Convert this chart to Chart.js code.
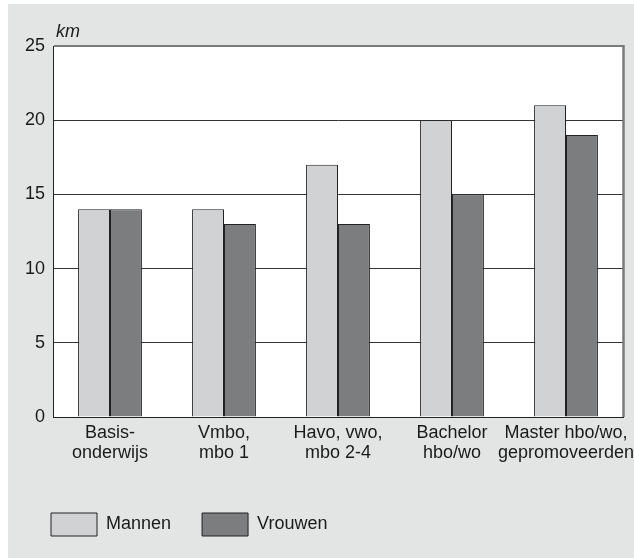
<!DOCTYPE html>
<html lang="nl">
<head>
<meta charset="utf-8">
<title>Afstand naar werk naar opleidingsniveau</title>
<script src="https://cdn.jsdelivr.net/npm/chart.js@4/dist/chart.umd.min.js"></script>
<style>
    html, body { margin: 0; padding: 0; background: #fff; overflow: hidden; }
    #wrap { position: absolute; left: 8px; top: 4px; width: 640px; height: 554px; background: #e3e4e4; }
    canvas { display: block; }
</style>
</head>
<body>
<div id="wrap"><canvas id="afstandChart" width="640" height="554"></canvas></div>
<script>
// Data (km)
const categorieen = [
    ["Basis-", "onderwijs"],
    ["Vmbo,", "mbo 1"],
    ["Havo, vwo,", "mbo 2-4"],
    ["Bachelor", "hbo/wo"],
    ["Master hbo/wo,", "gepromoveerden"]
];
const mannen = [14, 14, 17, 20, 21];
const vrouwen = [14, 13, 13, 15, 19];
const yTicks = [0, 5, 10, 15, 20, 25];
const eenheid = "km";

document.addEventListener("DOMContentLoaded", () => {
    const ctx = document.getElementById("afstandChart").getContext("2d");

    Chart.defaults.font.family = "'Liberation Sans', Arial, Helvetica, sans-serif";
    Chart.defaults.font.size = 18;
    Chart.defaults.color = "#1a1a1a";

    // witte plotvlakte, rand rechts en eenheid "km"
    const plotVlak = {
        id: "plotVlak",
        beforeDraw(chart) {
            const { ctx, chartArea: a } = chart;
            ctx.save();
            ctx.fillStyle = "#ffffff";
            ctx.fillRect(a.left, a.top, a.right - a.left, a.bottom - a.top);
            ctx.restore();
        },
        afterDraw(chart) {
            const { ctx, chartArea: a } = chart;
            ctx.save();
            ctx.strokeStyle = "#7a7a7a";
            ctx.lineWidth = 2.5;
            ctx.beginPath();
            ctx.moveTo(a.right + 0.5, a.top - 1);
            ctx.lineTo(a.right + 0.5, a.bottom);
            ctx.stroke();
            ctx.fillStyle = "#1a1a1a";
            ctx.font = "italic 18px 'Liberation Sans', Arial, sans-serif";
            ctx.textAlign = "left";
            ctx.textBaseline = "alphabetic";
            ctx.fillText(eenheid, a.left + 3, a.top - 9);
            ctx.restore();
        }
    };

    new Chart(ctx, {
        type: "bar",
        data: {
            labels: categorieen,
            datasets: [
                {
                    label: "Mannen",
                    data: mannen,
                    backgroundColor: "#d1d2d4",
                    borderColor: "#222",
                    borderWidth: 1
                },
                {
                    label: "Vrouwen",
                    data: vrouwen,
                    backgroundColor: "#7c7d7f",
                    borderColor: "#222",
                    borderWidth: 1
                }
            ]
        },
        options: {
            responsive: false,
            animation: false,
            categoryPercentage: 0.56,
            barPercentage: 1,
            layout: { padding: { left: 12, top: 42, right: 25, bottom: 12 } },
            plugins: {
                tooltip: { enabled: false },
                legend: {
                    position: "bottom",
                    align: "start",
                    labels: {
                        boxWidth: 46,
                        boxHeight: 23,
                        padding: 31,
                        color: "#1a1a1a",
                        font: { size: 18 }
                    }
                }
            },
            scales: {
                x: {
                    grid: { display: false, drawTicks: false },
                    border: { display: true, color: "#222", width: 1 },
                    ticks: { padding: 6, maxRotation: 0, autoSkip: false, font: { size: 18, lineHeight: 1.12 } },
                    afterFit(scale) { scale.height = 65; }
                },
                y: {
                    min: 0,
                    max: 25,
                    afterBuildTicks(scale) { scale.ticks = yTicks.map(v => ({ value: v })); },
                    grid: {
                        drawTicks: false,
                        color: c => (c.tick && c.tick.value === 25 ? "#7a7a7a" : "#333"),
                        lineWidth: c => (c.tick && c.tick.value === 25 ? 2 : 1)
                    },
                    border: { display: true, color: "#222", width: 1 },
                    ticks: { padding: 8, font: { size: 18 } },
                    afterFit(scale) { scale.width = 33; }
                }
            }
        },
        plugins: [plotVlak]
    });
});
</script>
</body>
</html>
